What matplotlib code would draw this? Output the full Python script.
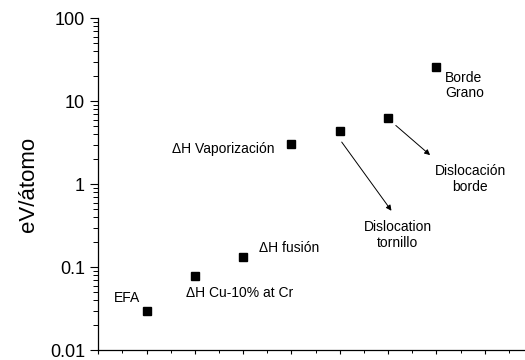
"""Characteristic energies (eV per atom) of defects and transformations, log scale."""

import matplotlib

matplotlib.use("Agg")
import matplotlib.pyplot as plt
from matplotlib.ticker import LogLocator, MultipleLocator, NullFormatter, FixedLocator

plt.rcParams["font.family"] = ["Liberation Sans", "DejaVu Sans"]

# position along x and energy in eV/atom
x_pos = [1, 2, 3, 4, 5, 6, 7]
energy = [0.030, 0.078, 0.132, 3.1, 4.45, 6.3, 26.0]

# labels: (text, x, y, ha)
labels = ["EFA", "\u0394H Cu-10% at Cr", "\u0394H fusión", "\u0394H Vaporización",
          "Dislocation\ntornillo", "Dislocación\nborde", "Borde\nGrano"]
label_x = [0.60, 2.92, 3.95, 2.59, 6.20, 7.70, 7.18]
label_y = [0.043, 0.049, 0.170, 2.64, 0.246, 1.15, 15.5]
label_ha = ["center", "center", "center", "center", "center", "center", "left"]

# arrows from the dislocation points towards their labels
arrow_from = [(5.04, 3.23), (6.16, 5.12)]
arrow_to = [(6.07, 0.48), (6.87, 2.25)]

fig = plt.figure(figsize=(5.25, 3.6), dpi=100)
ax = fig.add_axes([0.1872, 0.027, 0.828, 0.922])

ax.plot(x_pos, energy, "s", color="black", ms=5.4, clip_on=False)

for txt, lx, ly, ha in zip(labels, label_x, label_y, label_ha):
    ax.text(lx, ly, txt, ha=ha, va="center", multialignment=ha,
            fontsize=10, linespacing=1.15)

for (x0, y0), (x1, y1) in zip(arrow_from, arrow_to):
    ax.annotate("", xy=(x1, y1), xytext=(x0, y0),
                arrowprops=dict(arrowstyle="-|>", color="black", lw=0.7,
                                mutation_scale=8, shrinkA=0, shrinkB=0))

ax.set_yscale("log")
ax.set_ylim(0.01, 100)
ax.set_xlim(0, 9)

ax.yaxis.set_major_locator(FixedLocator([0.01, 0.1, 1, 10, 100]))
ax.set_yticklabels(["0.01", "0.1", "1", "10", "100"])
ax.yaxis.set_minor_locator(LogLocator(base=10, subs=range(2, 10), numticks=20))
ax.yaxis.set_minor_formatter(NullFormatter())

ax.xaxis.set_major_locator(MultipleLocator(1))
ax.xaxis.set_minor_locator(MultipleLocator(0.5))
ax.set_xticklabels([])

ax.tick_params(axis="y", which="major", length=6, width=0.8, labelsize=13, pad=3.5)
ax.tick_params(axis="y", which="minor", length=3.5, width=0.7)
ax.tick_params(axis="x", which="major", length=3, width=0.8)
ax.tick_params(axis="x", which="minor", length=2, width=0.7)

for side in ("top", "right"):
    ax.spines[side].set_visible(False)
for side in ("left", "bottom"):
    ax.spines[side].set_linewidth(0.9)

ax.set_ylabel("eV/átomo", fontsize=16, labelpad=8)

fig.savefig("out.png", dpi=100)
